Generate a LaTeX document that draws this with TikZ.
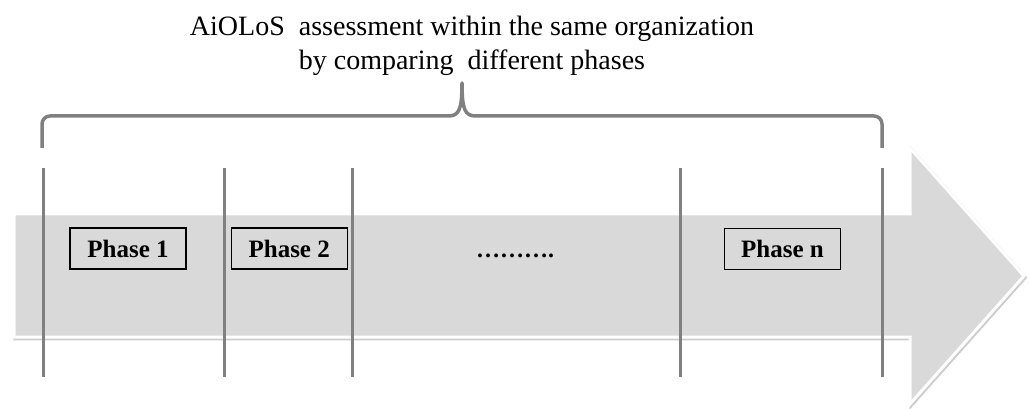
\documentclass[tikz,border=0pt]{standalone}
\usepackage{fontspec}
\setmainfont{Liberation Serif}
\usetikzlibrary{positioning}

\tikzset{
  phasebox/.style={draw, line width=1.2pt, fill=black!15, inner sep=0pt,
    minimum width=116pt, minimum height=41pt,
    font=\bfseries\fontsize{25}{29}\selectfont},
  divider/.style={draw=black!50, line width=3pt},
}

\begin{document}
\begin{tikzpicture}[x=1pt,y=-1pt]
        \useasboundingbox (0,0) rectangle (1029,409);
        % big arrow
        \draw[black!20, line width=3.5pt, shift={(1,1.5)}]
            (14,214) -- (910,214) -- (910,148) -- (1024,276)
            -- (910,404) -- (910,337) -- (14,337) -- cycle;
        \filldraw[draw=white, line width=3pt, fill=black!15]
            (14,214) -- (910,214) -- (910,148) -- (1024,276)
            -- (910,404) -- (910,337) -- (14,337) -- cycle;
        % phase dividers
        \foreach \x in {43,224,352,680,882}
          \draw[divider] (\x,168) -- (\x,377);
        % phases
        \node[phasebox] (phase1) at (128,248.5) {Phase 1};
        \node[phasebox, right=44pt of phase1] (phase2) {Phase 2};
        \node[font=\bfseries\fontsize{24}{28}\selectfont] (more) at (515,256) {……….};
        \node[phasebox] (phasen) at (782.5,249) {Phase n};
        % brace and caption
        \coordinate (bl) at (42,148);
        \coordinate (br) at (882,148);
        \coordinate (tip) at (462,83);
        \draw[black!50, line width=3.5pt, line join=round]
            (bl) -- (42,124) arc[start angle=180, end angle=270, radius=8]
                 -- (448,116) .. controls (459,116) and (462,110) .. (tip)
                 .. controls (462,110) and (465,116) .. (476,116)
                 -- (874,116) arc[start angle=270, end angle=360, radius=8]
                 -- (br);
        \node[align=center, font=\fontsize{28}{34}\selectfont] (caption) at (472,46)
            {AiOLoS\ \ assessment within the same organization\\
             by comparing\ \ different phases};
\end{tikzpicture}
\end{document}
